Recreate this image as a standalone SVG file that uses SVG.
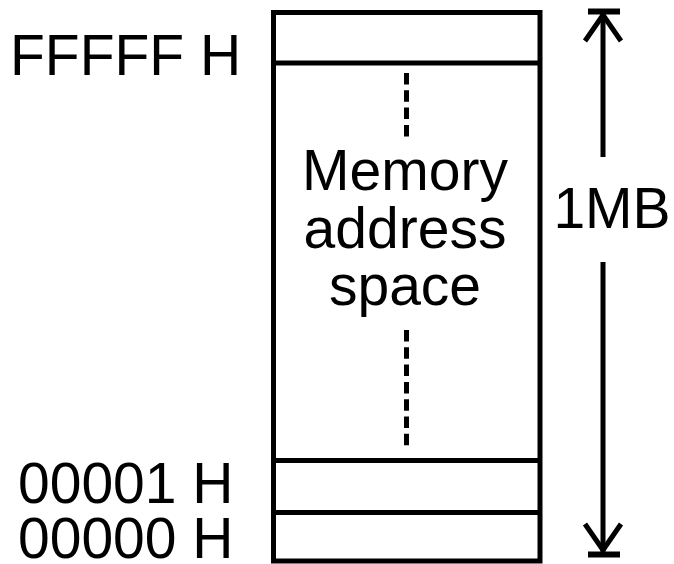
<svg xmlns="http://www.w3.org/2000/svg" width="674" height="564" viewBox="0 0 674 564">
<style>
.ln{stroke:#000;stroke-width:5;fill:none}
.dash{stroke:#000;stroke-width:5;stroke-dasharray:11.5 5.8;fill:none}
text{font-family:"Liberation Sans",Arial,sans-serif;font-size:57px;fill:#000}
</style>
<rect width="674" height="564" fill="#fff"/>
<g id="memory-block">
<rect class="ln" x="273.5" y="12.5" width="266.5" height="548.5"/>
<line class="ln" x1="273.5" y1="63" x2="540" y2="63"/>
<line class="ln" x1="273.5" y1="460.5" x2="540" y2="460.5"/>
<line class="ln" x1="273.5" y1="512.5" x2="540" y2="512.5"/>
<line class="dash" x1="406.5" y1="73" x2="406.5" y2="137"/>
<line class="dash" x1="406.5" y1="330" x2="406.5" y2="446"/>
<text x="405" y="190" text-anchor="middle">Memory</text>
<text x="405" y="248" text-anchor="middle">address</text>
<text x="405" y="305" text-anchor="middle">space</text>
</g>
<g id="labels">
<text x="10" y="75">FFFFF H</text>
<text x="18" y="503">00001 H</text>
<text x="18" y="558">00000 H</text>
</g>
<g id="connectors">
<line class="ln" x1="603" y1="14" x2="603" y2="157"/>
<line class="ln" x1="603" y1="262" x2="603" y2="552"/>
<line x1="588" y1="11.5" x2="620" y2="11.5" stroke="#000" stroke-width="6"/>
<line x1="588" y1="554.5" x2="620" y2="554.5" stroke="#000" stroke-width="6"/>
<polyline class="ln" points="585,41 603,15 621,41"/>
<polyline class="ln" points="585,524 603,550 621,524"/>
<text x="612" y="228" text-anchor="middle">1MB</text>
</g>
</svg>
